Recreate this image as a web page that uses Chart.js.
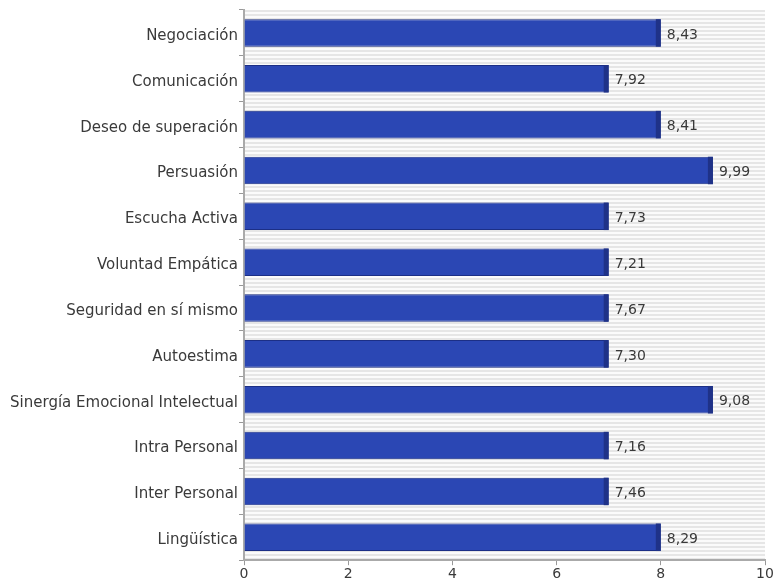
<!DOCTYPE html>
<html>
<head>
<meta charset="utf-8">
<script src="https://cdn.jsdelivr.net/npm/chart.js@4"></script>
<style>
  html, body { margin: 0; padding: 0; background: #fff; }
  #wrap { width: 776px; height: 584px; }
</style>
</head>
<body>
<div id="wrap"><canvas id="grafico"></canvas></div>
<script>
const categorias = ['Negociación', 'Comunicación', 'Deseo de superación', 'Persuasión', 'Escucha Activa',
  'Voluntad Empática', 'Seguridad en sí mismo', 'Autoestima', 'Sinergía Emocional Intelectual',
  'Intra Personal', 'Inter Personal', 'Lingüística'];
// puntajes que se muestran al lado de cada barra
const puntajes = [8.43, 7.92, 8.41, 9.99, 7.73, 7.21, 7.67, 7.30, 9.08, 7.16, 7.46, 8.29];
// largo de la barra tal como se dibuja (el original trunca al entero)
const barras = [8, 7, 8, 9, 7, 7, 7, 7, 9, 7, 7, 8];
const ticksX = [0, 2, 4, 6, 8, 10];

const fuente = 'DejaVu Sans';
const colorTexto = '#3a3a3a';

// fondo rayado del area del grafico
const fondoRayado = {
  id: 'fondoRayado',
  beforeDraw(chart) {
    const { ctx, chartArea: a } = chart;
    ctx.save();
    ctx.fillStyle = '#fbfbfb';
    ctx.fillRect(a.left, a.top, a.right - a.left, a.bottom - a.top);
    ctx.fillStyle = '#e6e6e6';
    for (let y = a.top; y < a.bottom; y += 4) {
      ctx.fillRect(a.left, y, a.right - a.left, 2);
    }
    ctx.restore();
  }
};

// borde oscuro a la derecha y etiqueta con el valor
const etiquetas = {
  id: 'etiquetas',
  afterDatasetsDraw(chart) {
    const { ctx } = chart;
    const meta = chart.getDatasetMeta(0);
    ctx.save();
    meta.data.forEach((bar, i) => {
      const h = bar.height;
      ctx.fillStyle = '#1f3288';
      ctx.fillRect(bar.x - 5, bar.y - h / 2, 5, h);
      ctx.fillStyle = colorTexto;
      ctx.font = '14px ' + fuente;
      ctx.textBaseline = 'middle';
      ctx.fillText(puntajes[i].toFixed(2).replace('.', ','), bar.x + 6, bar.y + 2);
    });
    ctx.restore();
  }
};

new Chart(document.getElementById('grafico'), {
  type: 'bar',
  data: {
    labels: categorias,
    datasets: [{
      data: barras,
      backgroundColor: '#2b47b4',
      borderColor: '#1c2f86',
      borderWidth: 1,
      borderSkipped: 'left',
      categoryPercentage: 0.6,
      barPercentage: 1
    }]
  },
  options: {
    indexAxis: 'y',
    responsive: true,
    maintainAspectRatio: false,
    animation: false,
    layout: { padding: { top: 8, right: 11, left: 8, bottom: 0 } },
    plugins: {
      legend: { display: false },
      tooltip: { enabled: false }
    },
    scales: {
      x: {
        min: 0,
        max: 10,
        afterBuildTicks(axis) { axis.ticks = ticksX.map(v => ({ value: v })); },
        grid: { drawOnChartArea: false, drawTicks: true, tickLength: 5, color: '#999' },
        border: { display: true, color: '#aaa', width: 2 },
        ticks: { color: colorTexto, font: { family: fuente, size: 14 }, padding: 1 }
      },
      y: {
        afterFit(axis) { axis.width = 236; },
        grid: { offset: true, drawOnChartArea: false, drawTicks: true, tickLength: 5, color: '#999' },
        border: { display: true, color: '#aaa', width: 2 },
        ticks: { color: colorTexto, font: { family: fuente, size: 15 }, padding: 1, labelOffset: 3 }
      }
    }
  },
  plugins: [fondoRayado, etiquetas]
});
</script>
</body>
</html>
